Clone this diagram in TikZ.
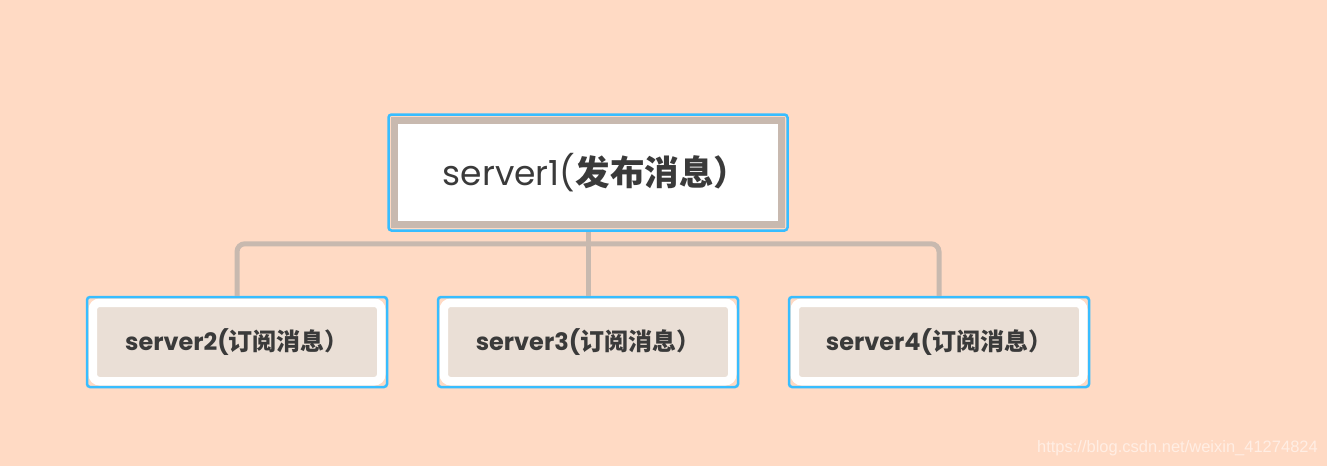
\documentclass[tikz,border=0pt]{standalone}
\usepackage{fontspec}
\setmainfont{Poppins}
\newfontfamily\cjk{Noto Sans CJK SC}
\newfontfamily\wmfont{Liberation Sans}
\usetikzlibrary{fit}
\definecolor{cpeach}{RGB}{255,218,196}
\definecolor{cblue}{RGB}{56,189,255}
\definecolor{cframe}{RGB}{200,185,175}
\definecolor{cbeige}{RGB}{234,223,214}
\definecolor{ctext}{RGB}{58,58,58}
\tikzset{
  pubnode/.style={fill=white,draw=cframe,line width=7pt,inner sep=0pt,
    minimum width=387pt,minimum height=104pt,text=ctext,
    font=\fontsize{34.5}{40}\selectfont},
  subnode/.style={fill=cbeige,draw=white,line width=8.5pt,rounded corners=7pt,
    inner sep=0pt,minimum width=288.5pt,minimum height=78.5pt,text=ctext,
    font=\fontsize{24}{29}\selectfont\bfseries},
  selframe/.style={draw=cblue,line width=2.5pt,rounded corners=3pt},
  link/.style={draw=cframe,line width=5pt,rounded corners=8pt},
  wmark/.style={text=white!55!cpeach,font=\wmfont\fontsize{16.5}{20}\selectfont,inner sep=0pt}
}

\begin{document}
\begin{tikzpicture}[x=1pt,y=-1pt]
    \fill[cpeach] (0,0) rectangle (1327,466);
    \useasboundingbox (0,0) rectangle (1327,466);
    % publisher
    \node[pubnode] (s1) at (588,172.5) {server1({\cjk\bfseries 发布消息）}\kern-15pt};
    \node[selframe,inner sep=2.5pt,fit=(s1)] (f1) {};
    % subscribers
    \foreach \i/\x in {2/237,3/588,4/939} {
      \node[subnode] (s\i) at (\x,342) {server\i({\cjk 订阅消息）}};
      \node[selframe,inner sep=1.5pt,fit=(s\i)] (f\i) {};
    }
    \coordinate (hub) at ([shift={(0,12)}]f1.south);
    \draw[link] (f2.north) |- (hub) -| (f4.north);
    \draw[link] (f1.south) -- (f3.north);
    \node[wmark,anchor=base east] (wm) at (1318,452) {https://blog.csdn.net/weixin\_41274824};
\end{tikzpicture}
\end{document}
